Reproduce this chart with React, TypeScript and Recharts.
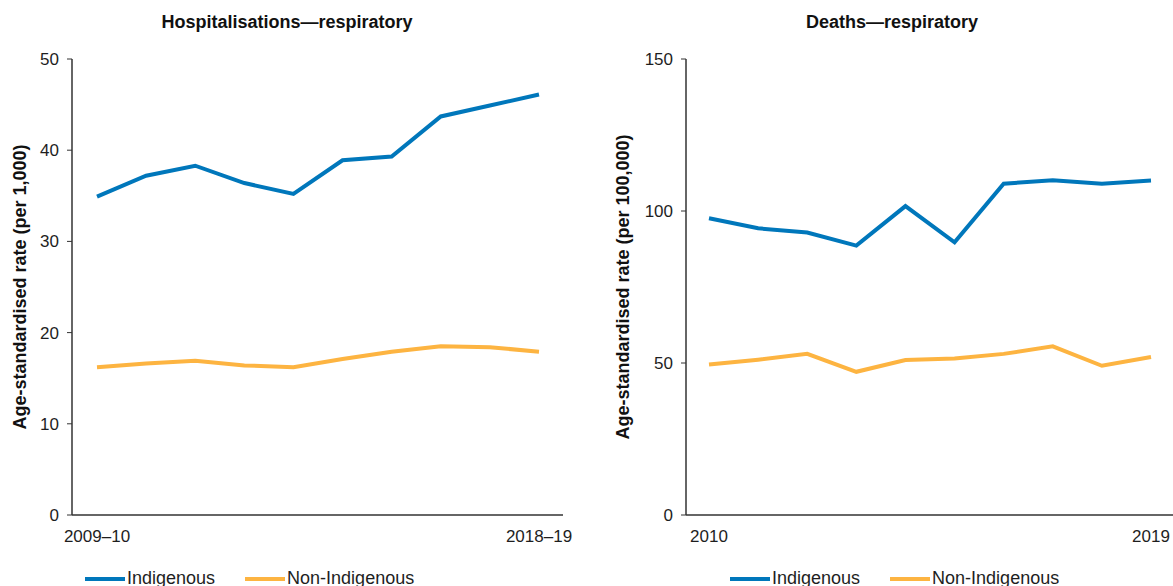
import { LineChart, Line, XAxis, YAxis, Legend, Label } from "recharts";

const FONT = '"Liberation Sans", Arial, sans-serif';
const BLUE = "#0077bb";
const ORANGE = "#fdb441";
const AXIS = "#333333";
const TEXT = "#1e1e1e";

// Hospitalisations (per 1,000)
const hospYears = ["2009–10", "2010–11", "2011–12", "2012–13", "2013–14", "2014–15", "2015–16", "2016–17", "2017–18", "2018–19"];
const hospIndigenous = [34.9, 37.2, 38.3, 36.4, 35.2, 38.9, 39.3, 43.7, 44.9, 46.1];
const hospNonIndigenous = [16.2, 16.6, 16.9, 16.4, 16.2, 17.1, 17.9, 18.5, 18.4, 17.9];
const hospTicks = [0, 10, 20, 30, 40, 50];

// Deaths (per 100,000)
const deathYears = ["2010", "2011", "2012", "2013", "2014", "2015", "2016", "2017", "2018", "2019"];
const deathIndigenous = [97.6, 94.3, 92.9, 88.6, 101.6, 89.7, 109.0, 110.1, 109.0, 110.0];
const deathNonIndigenous = [49.5, 51.1, 53.0, 47.1, 51.0, 51.5, 53.0, 55.5, 49.1, 52.0];
const deathTicks = [0, 50, 100, 150];

const SERIES_NAMES = ["Indigenous", "Non-Indigenous"];

interface PanelProps {
  left: number;
  title: string;
  titleX: number;
  years: string[];
  indigenous: number[];
  nonIndigenous: number[];
  yTicks: number[];
  yLabel: string;
  yLabelX: number;
  yAxisWidth: number;
  marginLeft: number;
  marginRight: number;
  padLeft: number;
  padRight: number;
  legendLeft: number;
}

function renderLegend(props: any) {
  const { payload } = props;
  return (
    <div style={{ display: "flex", alignItems: "center", fontFamily: FONT, fontSize: 18, color: TEXT, whiteSpace: "nowrap" }}>
      {(payload || []).map((entry: any) => (
        <span key={entry.value} style={{ display: "flex", alignItems: "center", marginRight: 30 }}>
          <span style={{ display: "inline-block", width: 40, height: 4, background: entry.color, marginRight: 2 }} />
          {entry.value}
        </span>
      ))}
    </div>
  );
}

function Panel(p: PanelProps) {
  const data = p.years.map((year, i) => ({
    year,
    indigenous: p.indigenous[i],
    nonIndigenous: p.nonIndigenous[i],
  }));
  const yMax = p.yTicks[p.yTicks.length - 1];

  return (
    <div style={{ position: "absolute", left: p.left, top: 0, width: 590, height: 586 }}>
      <div
        style={{
          position: "absolute",
          left: p.titleX - 200,
          width: 400,
          top: 12,
          textAlign: "center",
          fontFamily: FONT,
          fontWeight: "bold",
          fontSize: 18,
          color: "#111",
          zIndex: 2,
        }}
      >
        {p.title}
      </div>
      <LineChart
        width={590}
        height={586}
        data={data}
        margin={{ top: 59, right: p.marginRight, left: p.marginLeft, bottom: 41 }}
      >
        <XAxis
          dataKey="year"
          ticks={[p.years[0], p.years[p.years.length - 1]]}
          interval={0}
          tickLine={false}
          tickSize={0}
          tickMargin={15}
          height={30}
          padding={{ left: p.padLeft, right: p.padRight }}
          axisLine={{ stroke: AXIS, strokeWidth: 1.5 }}
          tick={{ fill: TEXT, fontSize: 17, fontFamily: FONT }}
        />
        <YAxis
          domain={[0, yMax]}
          ticks={p.yTicks}
          width={p.yAxisWidth}
          tickSize={5}
          tickMargin={8}
          axisLine={{ stroke: AXIS, strokeWidth: 1.5 }}
          tickLine={{ stroke: AXIS }}
          tick={{ fill: TEXT, fontSize: 17, fontFamily: FONT }}
        >
          <Label
            content={(lp: any) => {
              const vb = lp.viewBox || { y: 59, height: 456 };
              const cy = vb.y + vb.height / 2;
              return (
                <text
                  x={p.yLabelX}
                  y={cy}
                  transform={`rotate(-90 ${p.yLabelX} ${cy})`}
                  textAnchor="middle"
                  dominantBaseline="central"
                  fontFamily={FONT}
                  fontWeight="bold"
                  fontSize={18}
                  fill="#111"
                >
                  {p.yLabel}
                </text>
              );
            }}
          />
        </YAxis>
        <Legend
          layout="horizontal"
          verticalAlign="middle"
          align="center"
          content={renderLegend}
          wrapperStyle={{ top: 568, left: p.legendLeft, width: "auto", height: "auto", bottom: "auto", right: "auto" }}
        />
        <Line
          type="linear"
          dataKey="indigenous"
          name={SERIES_NAMES[0]}
          stroke={BLUE}
          strokeWidth={4}
          dot={false}
          isAnimationActive={false}
        />
        <Line
          type="linear"
          dataKey="nonIndigenous"
          name={SERIES_NAMES[1]}
          stroke={ORANGE}
          strokeWidth={4}
          dot={false}
          isAnimationActive={false}
        />
      </LineChart>
    </div>
  );
}

export default function App() {
  return (
    <div style={{ position: "absolute", left: 0, top: 0, width: 1173, height: 586, overflow: "hidden", background: "#fff" }}>
      <Panel
        left={0}
        title="Hospitalisations—respiratory"
        titleX={287}
        years={hospYears}
        indigenous={hospIndigenous}
        nonIndigenous={hospNonIndigenous}
        yTicks={hospTicks}
        yLabel="Age-standardised rate (per 1,000)"
        yLabelX={20}
        yAxisWidth={52}
        marginLeft={20}
        marginRight={27}
        padLeft={25}
        padRight={24}
        legendLeft={85}
      />
      <Panel
        left={590}
        title="Deaths—respiratory"
        titleX={302}
        years={deathYears}
        indigenous={deathIndigenous}
        nonIndigenous={deathNonIndigenous}
        yTicks={deathTicks}
        yLabel="Age-standardised rate (per 100,000)"
        yLabelX={33}
        yAxisWidth={60}
        marginLeft={36}
        marginRight={4}
        padLeft={23}
        padRight={25}
        legendLeft={140}
      />
    </div>
  );
}
